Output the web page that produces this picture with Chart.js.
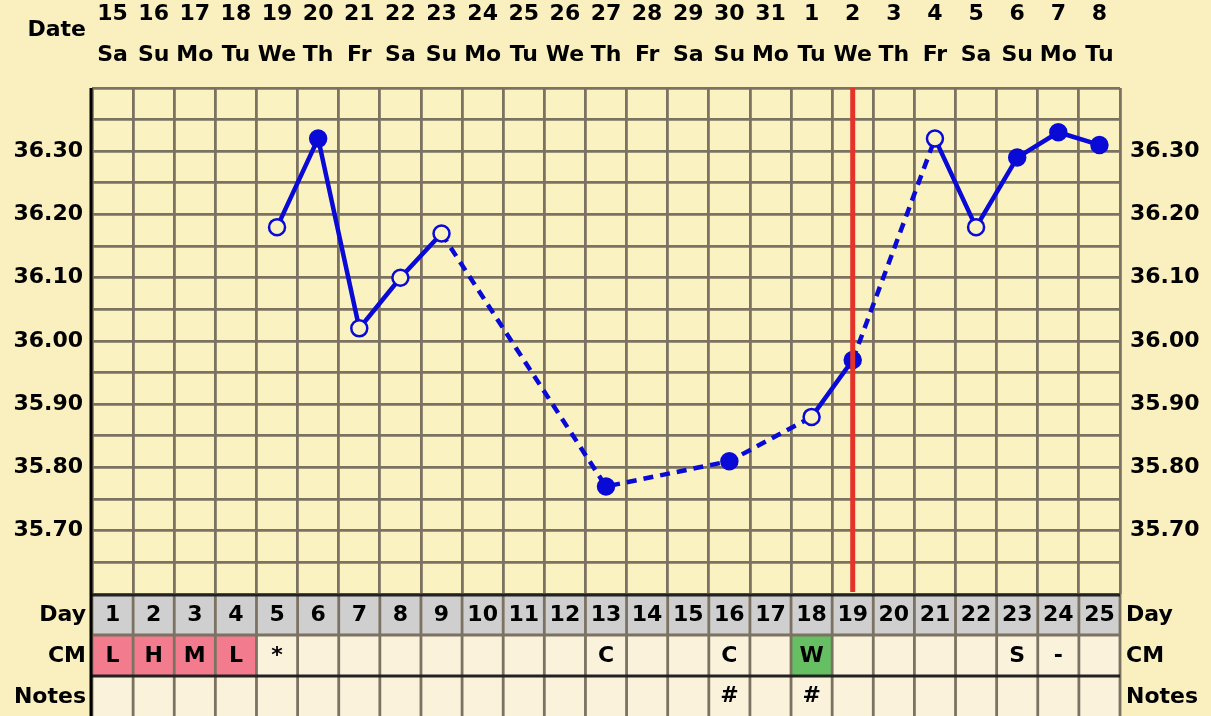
<!DOCTYPE html>
<html>
<head>
<meta charset="utf-8">
<script src="https://cdn.jsdelivr.net/npm/chart.js@4/dist/chart.umd.min.js"></script>
<style>
  html, body { margin: 0; padding: 0; background: #f9efbf; }
</style>
</head>
<body>
<canvas id="bbtChart" width="1211" height="716"></canvas>
<script>
// chart data
var dates = ['15','16','17','18','19','20','21','22','23','24','25','26','27','28','29','30','31','1','2','3','4','5','6','7','8'];
var weekdays = ['Sa','Su','Mo','Tu','We','Th','Fr','Sa','Su','Mo','Tu','We','Th','Fr','Sa','Su','Mo','Tu','We','Th','Fr','Sa','Su','Mo','Tu'];
var cycleDays = [1,2,3,4,5,6,7,8,9,10,11,12,13,14,15,16,17,18,19,20,21,22,23,24,25];
var temps = [null,null,null,null,36.18,36.32,36.02,36.10,36.17,null,null,null,35.77,null,null,35.81,null,35.88,35.97,null,36.32,36.18,36.29,36.33,36.31];
var filledPoints = [false,false,false,false,false,true,false,false,false,false,false,false,true,false,false,true,false,false,true,false,false,false,true,true,true];
var cmCodes = ['L','H','M','L','*','','','','','','','','C','','','C','','W','','','','','S','-',''];
var notes = ['','','','','','','','','','','','','','','','#','','#','','','','','','',''];
var coverlineDay = 19;
var tempLabels = [35.7, 35.8, 35.9, 36.0, 36.1, 36.2, 36.3];

// styles
var fontFamily = '"DejaVu Sans", Verdana, sans-serif';
var pageBg = '#f9efbf';
var plotBg = '#fbf2c2';
var gridColor = '#7b7262';
var lineBlue = '#0a0ad6';
var cellFill = { L: '#f27b8d', H: '#f27b8d', M: '#f27b8d', W: '#66c063' };

var tablePlugin = {
    id: 'bbtTable',
    beforeDraw: function (chart) {
        var c = chart.ctx, a = chart.chartArea;
        c.save();
        c.fillStyle = pageBg;
        c.fillRect(0, 0, chart.width, chart.height);
        c.fillStyle = plotBg;
        c.fillRect(a.left, a.top, a.right - a.left, a.bottom - a.top);
        c.restore();
    },
    afterDatasetsDraw: function (chart) {
        // coverline
        var c = chart.ctx, a = chart.chartArea, x = chart.scales.x;
        var px = x.getPixelForValue(coverlineDay - 1);
        c.save();
        c.strokeStyle = '#e5332a';
        c.lineWidth = 5;
        c.beginPath();
        c.moveTo(px, a.top);
        c.lineTo(px, a.bottom - 2);
        c.stroke();
        c.restore();
    },
    afterDraw: function (chart) {
        var c = chart.ctx, a = chart.chartArea, x = chart.scales.x;
        var colW = x.getPixelForValue(1) - x.getPixelForValue(0);
        var rowH = 41;
        var top = a.bottom;
        c.save();
        // rows background
        c.fillStyle = '#cfcfcf';
        c.fillRect(a.left, top, a.right - a.left, rowH);
        cycleDays.forEach(function (d, i) {
            var cx = x.getPixelForValue(i);
            c.fillStyle = cellFill[cmCodes[i]] || '#fbf2dc';
            c.fillRect(cx - colW / 2, top + rowH, colW, rowH);
            c.fillStyle = '#fbf2dc';
            c.fillRect(cx - colW / 2, top + 2 * rowH, colW, rowH);
        });
        // grid
        c.strokeStyle = gridColor;
        c.lineWidth = 2.8;
        for (var i = 0; i <= cycleDays.length; i++) {
            var bx = x.getPixelForValue(0) - colW / 2 + i * colW;
            c.beginPath();
            c.moveTo(bx, top);
            c.lineTo(bx, chart.height);
            c.stroke();
        }
        c.beginPath();
        c.moveTo(a.left, top + rowH);
        c.lineTo(a.right, top + rowH);
        c.stroke();
        c.strokeStyle = '#222';
        c.beginPath();
        c.moveTo(a.left, top + 1);
        c.lineTo(a.right, top + 1);
        c.moveTo(a.left, top + 2 * rowH);
        c.lineTo(a.right, top + 2 * rowH);
        c.stroke();
        c.strokeStyle = '#000';
        c.lineWidth = 3;
        c.beginPath();
        c.moveTo(a.left - 1, a.top);
        c.lineTo(a.left - 1, chart.height);
        c.stroke();
        // texts
        c.fillStyle = '#000';
        c.font = 'bold 22px ' + fontFamily;
        c.textBaseline = 'middle';
        c.textAlign = 'center';
        cycleDays.forEach(function (d, i) {
            var cx = x.getPixelForValue(i);
            c.fillText(String(d), cx, top + rowH / 2 + 1);
            if (cmCodes[i]) c.fillText(cmCodes[i], cx, top + rowH * 1.5 + 1);
            if (notes[i]) c.fillText(notes[i], cx, top + rowH * 2.5);
        });
        var rowNames = ['Day', 'CM', 'Notes'];
        rowNames.forEach(function (n, r) {
            c.textAlign = 'right';
            c.fillText(n, a.left - 6, top + rowH * (r + 0.5) + 1);
            c.textAlign = 'left';
            c.fillText(n, a.right + 6, top + rowH * (r + 0.5) + 1);
        });
        c.textAlign = 'right';
        c.fillText('Date', a.left - 6, 30);
        c.restore();
    }
};

var tickFont = { family: fontFamily, size: 22, weight: 'bold' };

function tempTick(v) {
    var k = Math.round(v * 20);
    var hit = tempLabels.some(function (t) { return Math.round(t * 20) === k; });
    return hit ? v.toFixed(2) : '';
}

var ctx = document.getElementById('bbtChart').getContext('2d');
var bbtChart = new Chart(ctx, {
    type: 'line',
    data: {
        labels: dates.map(function (d, i) { return [d, weekdays[i]]; }),
        datasets: [{
            data: temps,
            spanGaps: true,
            borderColor: lineBlue,
            borderWidth: 4.5,
            pointRadius: 8,
            pointHoverRadius: 8,
            pointBorderWidth: 2.5,
            pointBorderColor: lineBlue,
            pointBackgroundColor: filledPoints.map(function (f) { return f ? lineBlue : plotBg; }),
            segment: {
                // dashed across days with no reading
                borderDash: function (s) { return (s.p0.skip || s.p1.skip) ? [10, 7] : undefined; }
            }
        }]
    },
    options: {
        responsive: false,
        animation: false,
        layout: { padding: { top: 0, left: 0, right: 0, bottom: 122 } },
        plugins: { legend: { display: false }, tooltip: { enabled: false } },
        scales: {
            x: {
                position: 'top',
                offset: true,
                grid: { offset: true, color: gridColor, lineWidth: 2.8, drawTicks: false },
                border: { display: false },
                ticks: { padding: 12, color: '#000', maxRotation: 0, autoSkip: false,
                         font: { family: fontFamily, size: 22, weight: 'bold', lineHeight: 1.86 } },
                afterFit: function (s) { s.height = 88; }
            },
            y: {
                position: 'left',
                min: 35.6,
                max: 36.4,
                grid: { color: gridColor, lineWidth: 2.8, drawTicks: false },
                border: { display: false },
                ticks: { stepSize: 0.05, padding: 9, color: '#000', font: tickFont, callback: tempTick },
                afterFit: function (s) { s.width = 92; }
            },
            y2: {
                position: 'right',
                min: 35.6,
                max: 36.4,
                grid: { display: false, drawTicks: false },
                border: { display: false },
                ticks: { stepSize: 0.05, padding: 10, color: '#000', font: tickFont, callback: tempTick },
                afterFit: function (s) { s.width = 91; }
            }
        }
    },
    plugins: [tablePlugin]
});
</script>
</body>
</html>
